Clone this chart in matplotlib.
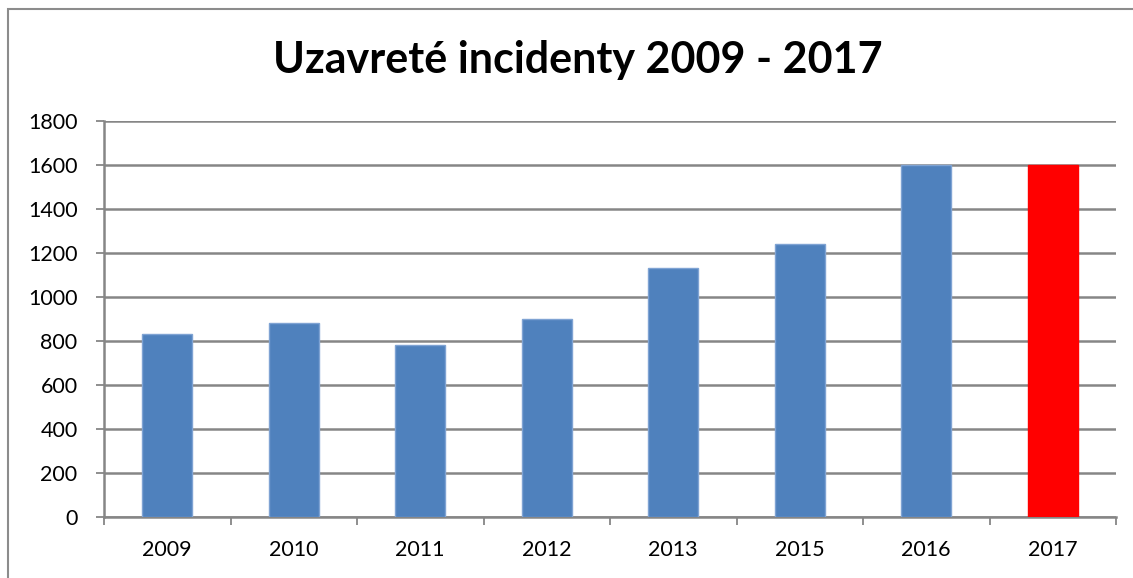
import matplotlib.pyplot as plt
from matplotlib.patches import Rectangle

years = ["2009", "2010", "2011", "2012", "2013", "2015", "2016", "2017"]
closed = [829, 879, 779, 899, 1130, 1238, 1597, 1600]
colors = ["#4F81BD"] * 7 + ["#FF0000"]
edges = ["#7FA3D3"] * 7 + ["#FF0000"]
yticks = list(range(0, 1801, 200))

plt.rcParams['font.family'] = ['Lato', 'DejaVu Sans']
grid_col = "#868686"

fig = plt.figure(figsize=(11.33, 5.78), dpi=100)
ax = fig.add_axes([104 / 1133, 1 - 516.7 / 578, 1012 / 1133, 396 / 578])

x = range(len(years))
ax.bar(x, closed, width=0.395, color=colors, edgecolor=edges, linewidth=1, zorder=3)

ax.set_xlim(-0.5, len(years) - 0.5)
ax.set_ylim(0, 1800)
ax.set_yticks(yticks)
ax.set_xticks(list(x))
ax.set_xticklabels(years)
ax.set_xticks([i - 0.5 for i in range(len(years) + 1)], minor=True)

ax.yaxis.grid(True, color=grid_col, linewidth=1.8, zorder=0)
ax.set_axisbelow(True)
for s in ["top", "right"]:
    ax.spines[s].set_visible(False)
ax.spines["left"].set_color(grid_col)
ax.spines["left"].set_linewidth(1.8)
ax.spines["bottom"].set_color(grid_col)
ax.spines["bottom"].set_linewidth(1.8)

ax.tick_params(axis="y", length=6, width=1.3, color=grid_col, pad=13, labelsize=15.5)
ax.tick_params(axis="x", which="major", length=0, pad=17, labelsize=15.5)
ax.tick_params(axis="x", which="minor", length=6, width=1.3, color=grid_col)

fig.text(578 / 1133, 1 - 60 / 578, "Uzavreté incidenty 2009 - 2017",
         ha="center", va="center", fontsize=31, fontweight="bold")

# chart frame, cut off on the right and bottom
fig.patches.append(Rectangle((8 / 1133, -0.1), 1.2, 1 - 9 / 578 + 0.1,
                             transform=fig.transFigure, fill=False,
                             edgecolor="#8C8C8C", linewidth=1.5))

plt.savefig("out.png", dpi=100)
